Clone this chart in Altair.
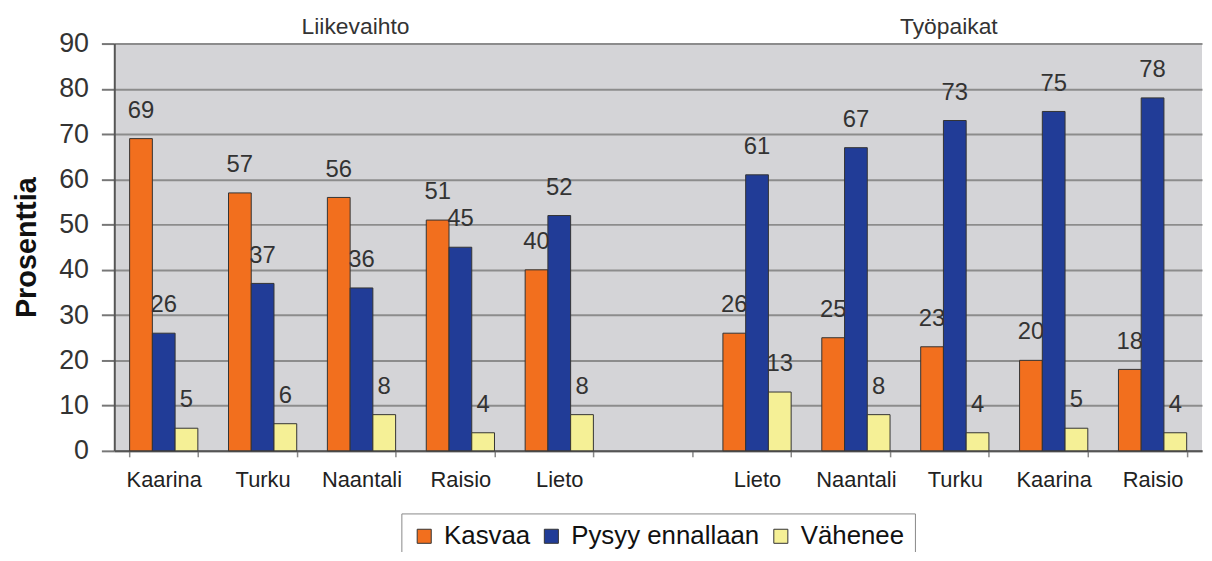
import altair as alt
import pandas as pd

slot_names = ["Kaarina", "Turku", "Naantali", "Raisio", "Lieto", "",
              "Lieto", "Naantali", "Turku", "Kaarina", "Raisio"]
series = ["Kasvaa", "Pysyy ennallaan", "Vähenee"]
kasvaa = [69, 57, 56, 51, 40, None, 26, 25, 23, 20, 18]
pysyy = [26, 37, 36, 45, 52, None, 61, 67, 73, 75, 78]
vahenee = [5, 6, 8, 4, 8, None, 13, 8, 4, 5, 4]
group_titles = ["Liikevaihto", "Työpaikat"]
group_slots = [2, 8]
colors = ["#f26f1e", "#213c97", "#f5f096"]

rows = []
for i in range(len(slot_names)):
    for s, vals in zip(series, [kasvaa, pysyy, vahenee]):
        if vals[i] is not None:
            rows.append({"slot": i, "sarja": s, "arvo": vals[i]})
df = pd.DataFrame(rows)
tdf = pd.DataFrame({"slot": group_slots, "otsikko": group_titles})

FONT = "Liberation Sans"
names_js = "[" + ",".join("'" + n + "'" for n in slot_names) + "]"

x_enc = alt.X("slot:O",
              scale=alt.Scale(domain=list(range(len(slot_names))),
                              paddingInner=0.31, paddingOuter=0.155),
              axis=alt.Axis(title=None, labelExpr=names_js + "[datum.value]",
                            labelAngle=0, labelFontSize=22, labelColor="#222",
                            labelFont=FONT, ticks=True, tickBand="extent",
                            tickSize=6, tickColor="#888", tickWidth=1.5,
                            labelPadding=13,
                            domainColor="#555", domainWidth=2, grid=False))
y_scale = alt.Scale(domain=[0, 90], nice=False)
xo = alt.XOffset("sarja:N", sort=series, scale=alt.Scale(paddingInner=0, paddingOuter=0))

bars = alt.Chart(df).mark_bar(stroke="#333", strokeWidth=1).encode(
    x=x_enc,
    xOffset=xo,
    y=alt.Y("arvo:Q", scale=y_scale,
            axis=alt.Axis(title="Prosenttia", titleFontSize=29, titleFont=FONT,
                          titleFontWeight="bold", titleColor="#111", titlePadding=17,
                          values=list(range(0, 91, 10)), labelFontSize=27,
                          labelFont=FONT, labelColor="#333", labelPadding=13,
                          tickSize=13, tickColor="#777", tickWidth=2,
                          domainColor="#555", domainWidth=2,
                          gridColor="#8c8c8c", gridWidth=2)),
    color=alt.Color("sarja:N", sort=series,
                    scale=alt.Scale(domain=series, range=colors),
                    legend=alt.Legend(title=None, orient="none", direction="horizontal",
                                      legendX=289, legendY=473,
                                      labelFontSize=26, labelFont=FONT, labelColor="#111",
                                      labelLimit=0,
                                      symbolType="square", symbolSize=200,
                                      symbolStrokeColor="#333", symbolStrokeWidth=1,
                                      fillColor="white", strokeColor="#888",
                                      padding=10, columnPadding=8, labelOffset=7)),
)

labels = alt.Chart(df).mark_text(baseline="alphabetic", dy=-21, fontSize=24,
                                  font=FONT, color="#333").encode(
    x=x_enc, xOffset=xo, y=alt.Y("arvo:Q", scale=y_scale), text="arvo:Q")

titles = alt.Chart(tdf).mark_text(baseline="alphabetic", dy=-10, dx=-6, fontSize=23,
                                  font=FONT, color="#333").encode(
    x=x_enc, y=alt.datum(90, scale=y_scale), text="otsikko:N")

chart = alt.layer(bars, labels, titles).properties(
    width=1095, height=410,
    autosize=alt.AutoSizeParams(type="none"),
    padding={"left": 107, "top": 34, "right": 2, "bottom": 100},
).configure_view(fill="#d4d4d7", stroke=None)

chart.save("out.html", embed_options={"renderer": "svg", "actions": False})
